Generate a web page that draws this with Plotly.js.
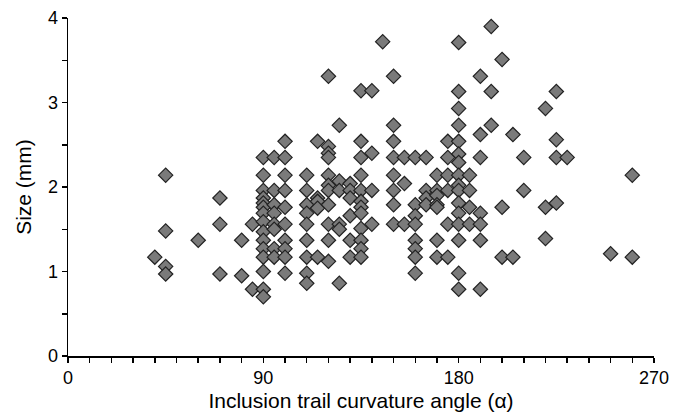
<!DOCTYPE html>
<html>
<head>
<meta charset="utf-8">
<script src="https://cdn.plot.ly/plotly-3.0.1.min.js"></script>
<style>html,body{margin:0;padding:0;background:#fff;}#chart{width:681px;height:412px;}</style>
</head>
<body>
<div id="chart"></div>
<script>
// Inclusion trail curvature angle (degrees)
const angle = [
  40, 45, 45, 45, 45, 60, 70, 70, 70, 80, 80, 85, 85,
  90, 90, 90, 90, 90, 90, 90, 90, 90, 90, 90, 90, 90, 90, 90,
  95, 95, 95, 95, 95, 95, 95, 95,
  100, 100, 100, 100, 100, 100, 100, 100, 100, 100,
  110, 110, 110, 110, 110, 110, 110, 110, 110,
  115, 115, 115, 115, 115,
  120, 120, 120, 120, 120, 120, 120, 120, 120, 120, 120,
  125, 125, 125, 125, 125, 125,
  130, 130, 130, 130, 130, 130,
  135, 135, 135, 135, 135, 135, 135, 135, 135, 135, 135, 135,
  140, 140, 140, 140,
  145,
  150, 150, 150, 150, 150, 150, 150, 150,
  155, 155, 155,
  160, 160, 160, 160, 160, 160, 160, 160,
  165, 165, 165, 165,
  170, 170, 170, 170, 170, 170, 170,
  175, 175, 175, 175, 175, 175,
  180, 180, 180, 180, 180, 180, 180, 180, 180, 180, 180, 180, 180, 180, 180, 180,
  185, 185, 185, 185,
  190, 190, 190, 190, 190, 190, 190,
  195, 195, 195,
  200, 200, 200,
  205, 205,
  210, 210,
  220, 220, 220,
  225, 225, 225, 225,
  230,
  250,
  260, 260
];
// Size (mm)
const sizeMm = [
  1.17, 2.14, 1.48, 1.06, 0.97, 1.37, 1.87, 1.56, 0.97, 1.37, 0.95, 1.56, 0.79,
  2.35, 2.14, 1.96, 1.87, 1.81, 1.76, 1.69, 1.59, 1.47, 1.37, 1.27, 1.17, 1.00, 0.79, 0.70,
  2.35, 1.96, 1.79, 1.69, 1.56, 1.50, 1.27, 1.17,
  2.54, 2.35, 2.14, 1.96, 1.76, 1.56, 1.37, 1.27, 1.17, 0.98,
  2.14, 1.96, 1.79, 1.69, 1.56, 1.37, 1.17, 0.98, 0.86,
  2.54, 1.87, 1.83, 1.75, 1.17,
  3.31, 2.48, 2.40, 2.35, 2.14, 2.02, 1.96, 1.79, 1.56, 1.37, 1.12,
  2.73, 2.07, 1.96, 1.56, 1.50, 0.86,
  2.04, 1.96, 1.87, 1.66, 1.37, 1.17,
  3.14, 2.54, 2.35, 2.14, 1.96, 1.83, 1.76, 1.69, 1.51, 1.37, 1.27, 1.17,
  3.14, 2.40, 1.96, 1.56,
  3.72,
  3.31, 2.73, 2.54, 2.35, 2.14, 1.96, 1.79, 1.56,
  2.35, 2.04, 1.56,
  2.35, 1.79, 1.66, 1.56, 1.37, 1.27, 1.17, 0.98,
  2.35, 1.96, 1.87, 1.79,
  2.14, 1.96, 1.90, 1.79, 1.76, 1.37, 1.17,
  2.54, 2.35, 2.14, 1.96, 1.56, 1.17,
  3.71, 3.13, 2.93, 2.73, 2.54, 2.39, 2.29, 2.14, 2.02, 1.96, 1.81, 1.69, 1.56, 1.37, 0.98, 0.79,
  2.14, 1.96, 1.76, 1.56,
  3.31, 2.62, 2.35, 1.69, 1.56, 1.37, 0.79,
  3.90, 3.13, 2.73,
  3.51, 1.76, 1.17,
  2.62, 1.17,
  2.35, 1.96,
  2.93, 1.76, 1.39,
  3.13, 2.56, 2.35, 1.81,
  2.35,
  1.21,
  2.14, 1.17
];
const xTickVals = [0, 90, 180, 270];
const xTickText = ['0', '90', '180', '270'];
const yTickVals = [0, 1, 2, 3, 4];
const yTickText = ['0', '1', '2', '3', '4'];

const font = {family: 'Liberation Sans, Arial, sans-serif', color: '#000'};

Plotly.newPlot('chart', [{
  x: angle,
  y: sizeMm,
  type: 'scatter',
  mode: 'markers',
  marker: {symbol: 'diamond', size: 11, color: '#7a7a7a', line: {color: '#222', width: 1.2}},
  hoverinfo: 'x+y'
}], {
  width: 681, height: 412,
  margin: {l: 68, r: 27, t: 18, b: 56},
  paper_bgcolor: '#fff', plot_bgcolor: '#fff',
  showlegend: false,
  font: Object.assign({size: 18}, font),
  xaxis: {
    range: [0, 270], autorange: false,
    tickmode: 'array', tickvals: xTickVals, ticktext: xTickText,
    ticks: 'outside', ticklen: 5, tickwidth: 1.5, tickcolor: '#000',
    minor: {dtick: 10, tick0: 0, ticks: 'outside', ticklen: 5, tickwidth: 1.5, tickcolor: '#000', showgrid: false},
    showline: true, linecolor: '#000', linewidth: 1.5,
    showgrid: false, zeroline: false,
    tickfont: Object.assign({size: 18}, font),
    title: {text: 'Inclusion trail curvature angle (α)', font: Object.assign({size: 21}, font), standoff: 6}
  },
  yaxis: {
    range: [0, 4], autorange: false,
    tickmode: 'array', tickvals: yTickVals, ticktext: yTickText,
    ticks: 'outside', ticklen: 5, tickwidth: 1.5, tickcolor: '#000',
    minor: {dtick: 0.5, tick0: 0, ticks: 'outside', ticklen: 5, tickwidth: 1.5, tickcolor: '#000', showgrid: false},
    showline: true, linecolor: '#000', linewidth: 1.5,
    showgrid: false, zeroline: false,
    tickfont: Object.assign({size: 18}, font),
    title: {text: 'Size (mm)', font: Object.assign({size: 21}, font), standoff: 10}
  }
}, {staticPlot: true});
</script>
</body>
</html>
